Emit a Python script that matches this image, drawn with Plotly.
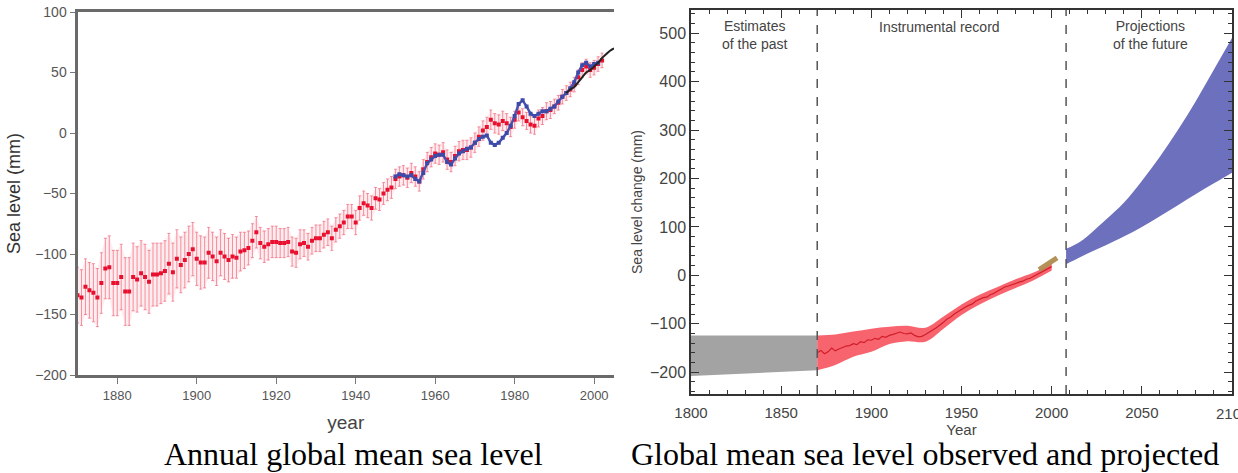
import plotly.graph_objects as go

# ---------------- Left panel data: annual global mean sea level ----------------
red_years = list(range(1870, 2003))
red_values = [-134, -136, -127, -130, -132, -136, -124, -112, -111, -124,
              -124, -119, -131, -131, -119, -121, -116, -119, -123, -117,
              -117, -116, -114, -108, -115, -104, -109, -105, -100, -96,
              -104, -107, -107, -99, -102, -106, -99, -102, -105, -102,
              -103, -98, -97, -95, -89, -82, -91, -94, -92, -90,
              -90, -91, -91, -90, -98, -99, -92, -91, -94, -89,
              -87, -87, -84, -82, -87, -80, -77, -74, -69, -69,
              -74, -62, -58, -60, -62, -54, -55, -50, -47, -45,
              -38, -36, -35, -37, -33, -36, -40, -30, -24, -20,
              -17, -18, -16, -22, -24, -19, -15, -14, -14, -12,
              -8, -3, 2, 5, 11, 8, 7, 10, 8, 5,
              11, 17, 13, 10, 7, 6, 12, 14, 18, 19,
              22, 25, 30, 33, 36, 40, 46, 52, 55, 52,
              54, 57, 60]
red_errors = [23, 23, 23, 23, 24, 24, 25, 25, 26, 27,
              27, 27, 28, 28, 28, 27, 27, 27, 26, 26,
              26, 25, 25, 25, 24, 24, 23, 23, 23, 22,
              22, 22, 21, 21, 20, 20, 19, 19, 18, 18,
              17, 16, 15, 14, 14, 13, 13, 13, 13, 13,
              13, 12, 12, 12, 12, 12, 12, 11, 11, 11,
              11, 11, 11, 11, 10, 10, 10, 10, 10, 10,
              10, 10, 10, 10, 10, 9, 9, 9, 9, 9,
              8, 8, 8, 8, 8, 8, 8, 8, 8, 8,
              8, 8, 8, 8, 8, 8, 8, 8, 8, 8,
              8, 8, 8, 8, 8, 8, 8, 8, 8, 8,
              7, 7, 7, 7, 7, 7, 7, 7, 7, 7,
              6, 6, 6, 6, 6, 6, 6, 6, 6, 6,
              6, 6, 6]

blue_years = list(range(1950, 2002))
blue_values = [-36, -34, -35, -36, -35, -38, -40, -33, -25, -22,
               -19, -18, -18, -24, -26, -21, -17, -15, -13, -12,
               -8, -5, -3, -2, -8, -10, -8, -4, 0, 6,
               14, 24, 27, 22, 16, 14, 16, 18, 18, 20,
               22, 26, 30, 33, 37, 42, 50, 56, 58, 55,
               57, 58]

black_years = list(range(1993, 2006))
black_values = [33, 36, 38, 42, 46, 50, 52, 55, 58, 62, 65, 68, 70]

# ---------------- Right panel data: observed and projected ----------------
past_years = [1800, 1870]
past_upper = [-124, -124]
past_lower = [-208, -196]

instr_years = list(range(1870, 2001, 2))
instr_center = [-160, -155, -162, -158, -150, -156, -152, -149, -146, -145,
                -141, -143, -137, -139, -133, -134, -130, -132, -126, -128,
                -124, -122, -119, -117, -120, -121, -119, -124, -127, -126,
                -122, -118, -113, -108, -103, -97, -90, -86, -80, -75,
                -70, -66, -62, -59, -53, -49, -46, -45, -40, -37,
                -33, -28, -24, -22, -19, -16, -14, -12, -8, -6,
                -2, 2, 6, 10, 14, 18]
band_years = [1870, 1880, 1890, 1900, 1910, 1920, 1930, 1940, 1950, 1960, 1970, 1980, 1990, 2000]
band_upper = [-124, -122, -116, -110, -106, -104, -108, -85, -60, -40, -24, -8, 6, 24]
band_lower = [-196, -185, -168, -158, -142, -136, -137, -110, -82, -60, -42, -26, -10, 10]

sat_years = [1993, 1995, 1997, 1999, 2001, 2003]
sat_values = [12, 17, 22, 27, 31, 36]

proj_years = [2008, 2016, 2030, 2040, 2050, 2060, 2070, 2080, 2090, 2100]
proj_upper = [55, 70, 115, 150, 195, 245, 300, 360, 425, 490]
proj_lower = [23, 38, 62, 80, 100, 122, 145, 168, 190, 212]

divider_years = [1870, 2008]

SANS = "Liberation Sans, Arial, Helvetica, sans-serif"
SERIF = "Liberation Serif, Times New Roman, serif"

fig = go.Figure()

# ---- left panel ----
env_up = [v + e for v, e in zip(red_values, red_errors)]
env_lo = [v - e for v, e in zip(red_values, red_errors)]
fig.add_trace(go.Scatter(x=red_years, y=env_up, mode="lines", line=dict(width=0),
                         showlegend=False, hoverinfo="skip", xaxis="x", yaxis="y"))
fig.add_trace(go.Scatter(x=red_years, y=env_lo, mode="lines", line=dict(width=0),
                         fill="tonexty", fillcolor="rgba(255,170,180,0.22)",
                         showlegend=False, hoverinfo="skip", xaxis="x", yaxis="y"))
fig.add_trace(go.Scatter(x=red_years, y=red_values, mode="markers",
                         marker=dict(color="#e8102e", size=4, symbol="square"),
                         error_y=dict(type="data", array=red_errors, color="rgba(240,110,130,0.75)",
                                      thickness=1, width=1.5),
                         showlegend=False, xaxis="x", yaxis="y"))
fig.add_trace(go.Scatter(x=blue_years, y=blue_values, mode="lines+markers",
                         line=dict(color="#4a54b0", width=2.5),
                         marker=dict(color="#3d4aa8", size=4, symbol="square"),
                         showlegend=False, xaxis="x", yaxis="y"))
fig.add_trace(go.Scatter(x=black_years, y=black_values, mode="lines",
                         line=dict(color="#222222", width=2, shape="spline"),
                         showlegend=False, xaxis="x", yaxis="y"))

# ---- right panel ----
fig.add_trace(go.Scatter(x=past_years, y=past_upper, mode="lines", line=dict(width=0),
                         showlegend=False, hoverinfo="skip", xaxis="x2", yaxis="y2"))
fig.add_trace(go.Scatter(x=past_years, y=past_lower, mode="lines", line=dict(width=0),
                         fill="tonexty", fillcolor="#a3a3a3",
                         showlegend=False, hoverinfo="skip", xaxis="x2", yaxis="y2"))
fig.add_trace(go.Scatter(x=band_years, y=band_upper, mode="lines", line=dict(width=0, shape="spline"),
                         showlegend=False, hoverinfo="skip", xaxis="x2", yaxis="y2"))
fig.add_trace(go.Scatter(x=band_years, y=band_lower, mode="lines", line=dict(width=0, shape="spline"),
                         fill="tonexty", fillcolor="#f8646e",
                         showlegend=False, hoverinfo="skip", xaxis="x2", yaxis="y2"))
fig.add_trace(go.Scatter(x=instr_years, y=instr_center, mode="lines",
                         line=dict(color="#d01e2a", width=1.2),
                         showlegend=False, xaxis="x2", yaxis="y2"))
fig.add_trace(go.Scatter(x=sat_years, y=sat_values, mode="lines",
                         line=dict(color="rgba(175,140,80,0.95)", width=5),
                         showlegend=False, xaxis="x2", yaxis="y2"))
fig.add_trace(go.Scatter(x=proj_years, y=proj_upper, mode="lines", line=dict(width=0, shape="spline"),
                         showlegend=False, hoverinfo="skip", xaxis="x2", yaxis="y2"))
fig.add_trace(go.Scatter(x=proj_years, y=proj_lower, mode="lines", line=dict(width=0, shape="spline"),
                         fill="tonexty", fillcolor="#6c70bd",
                         showlegend=False, hoverinfo="skip", xaxis="x2", yaxis="y2"))

for yr in divider_years:
    fig.add_shape(type="line", xref="x2", yref="y2 domain", x0=yr, x1=yr, y0=0, y1=1,
                  line=dict(color="#555555", width=1.5, dash="dash"))

W, H = 1238, 473
left_x = [77.5 / W, 614 / W]
left_y = [(H - 375) / H, (H - 12) / H]
right_x = [691 / W, 1232 / W]
right_y = [(H - 394) / H, (H - 10) / H]

fig.update_layout(
    width=W, height=H,
    margin=dict(l=0, r=0, t=0, b=0, autoexpand=False),
    plot_bgcolor="white", paper_bgcolor="white",
    showlegend=False,
    xaxis=dict(domain=left_x, anchor="y", range=[1870, 2005], automargin=False,
               tickvals=[1880, 1900, 1920, 1940, 1960, 1980, 2000],
               showgrid=False, zeroline=False, showline=True, mirror=True,
               linecolor="#6a6a6a", linewidth=3, ticks="outside", ticklen=6,
               tickcolor="#777777", tickwidth=1,
               tickfont=dict(family=SANS, size=13, color="#555555"),
               title=dict(text="year", font=dict(family=SANS, size=19, color="#444444"), standoff=15)),
    yaxis=dict(domain=left_y, anchor="x", range=[-200, 100], dtick=50, automargin=False,
               showgrid=False, zeroline=False, showline=True, mirror=False,
               linecolor="#6a6a6a", linewidth=3, ticks="outside", ticklen=5,
               tickcolor="#777777", tickwidth=1,
               tickfont=dict(family=SANS, size=14, color="#555555"),
               title=dict(text="Sea level (mm)", font=dict(family=SANS, size=18, color="#333333"), standoff=10)),
    xaxis2=dict(domain=right_x, anchor="y2", range=[1800, 2100], dtick=50, automargin=False,
                showgrid=False, zeroline=False, showline=True, mirror="allticks",
                linecolor="#333333", linewidth=1.5, ticks="inside", ticklen=8,
                tickcolor="#333333", tickwidth=1.2, ticklabelstandoff=4,
                minor=dict(ticks="inside", dtick=10, ticklen=4, tickcolor="#333333"),
                tickfont=dict(family=SANS, size=15, color="#444444"),
                title=dict(text="Year", font=dict(family=SANS, size=15, color="#444444"), standoff=0)),
    yaxis2=dict(domain=right_y, anchor="x2", range=[-245, 548], dtick=100, automargin=False,
                showgrid=False, zeroline=False, showline=True, mirror="allticks",
                linecolor="#333333", linewidth=1.5, ticks="inside", ticklen=8,
                tickcolor="#333333", tickwidth=1.2,
                minor=dict(ticks="inside", dtick=20, ticklen=4, tickcolor="#333333"),
                tickfont=dict(family=SANS, size=16, color="#444444"),
                title=dict(text="Sea level change (mm)", font=dict(family=SANS, size=14, color="#444444"), standoff=4)),
)

# cut-off tick label at the right edge (as in the reference)
fig.add_annotation(x=2100, y=0, xref="x2", yref="y2 domain", yanchor="top", xanchor="center",
                   yshift=-9, showarrow=False, text="2100",
                   font=dict(family=SANS, size=15, color="#444444"))

fig.add_annotation(x=1835, y=548, xref="x2", yref="y2", yanchor="top", showarrow=False, yshift=-6,
                   text="Estimates<br>of the past", font=dict(family=SANS, size=14, color="#444444"))
fig.add_annotation(x=1938, y=548, xref="x2", yref="y2", yanchor="top", showarrow=False, yshift=-7,
                   text="Instrumental record", font=dict(family=SANS, size=14, color="#444444"))
fig.add_annotation(x=2055, y=548, xref="x2", yref="y2", yanchor="top", showarrow=False, yshift=-6,
                   text="Projections<br>of the future", font=dict(family=SANS, size=14, color="#444444"))

fig.add_annotation(x=353 / W, y=(H - 454) / H, xref="paper", yref="paper", showarrow=False,
                   xanchor="center", yanchor="middle",
                   text="Annual global mean sea level", font=dict(family=SERIF, size=32, color="black"))
fig.add_annotation(x=925 / W, y=(H - 454) / H, xref="paper", yref="paper", showarrow=False,
                   xanchor="center", yanchor="middle",
                   text="Global mean sea level observed and projected", font=dict(family=SERIF, size=32, color="black"))

fig.write_html("out.html")
